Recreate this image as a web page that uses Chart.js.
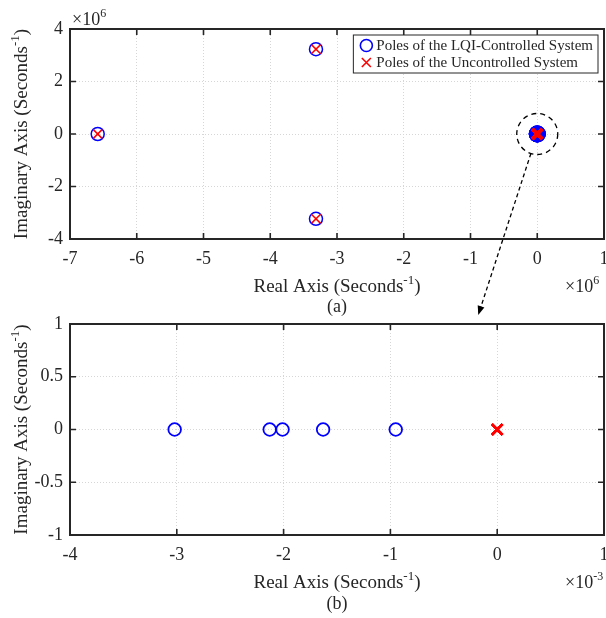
<!DOCTYPE html>
<html>
<head>
<meta charset="utf-8">
<script src="https://cdn.jsdelivr.net/npm/chart.js@4.4.1/dist/chart.umd.min.js"></script>
<style>
  body { margin: 0; background: #fff; }
  #wrap { position: relative; width: 606px; height: 618px; }
  canvas { position: absolute; left: 0; }
</style>
</head>
<body>
<div id="wrap">
  <canvas id="chartA" width="606" height="320" style="top:0"></canvas>
  <canvas id="chartB" width="606" height="318" style="top:300px"></canvas>
</div>
<script>
// poles in seconds^-1 (real / imaginary parts)
const lqiRe = [-6.585e6, -3.315e6, -3.315e6, -3.02e-3, -2.13e-3, -2.01e-3, -1.63e-3, -0.95e-3];
const lqiIm = [0, 3.23e6, -3.23e6, 0, 0, 0, 0, 0];
const openRe = [-6.585e6, -3.315e6, -3.315e6, 0, 0, 0, 0];
const openIm = [0, 3.23e6, -3.23e6, 0, 0, 0, 0];

const seriesNames = ["Poles of the LQI-Controlled System", "Poles of the Uncontrolled System"];

// tick ranges
const xTicksA = [-7, -6, -5, -4, -3, -2, -1, 0, 1];
const yTicksA = [-4, -2, 0, 2, 4];
const xTicksB = [-4, -3, -2, -1, 0, 1];
const yTicksB = [-1, -0.5, 0, 0.5, 1];

const FONT = '"Liberation Serif", "Times New Roman", serif';
const INK = "#262626";
const BLUE = "#0000ff";
const RED = "#ff0000";

function toPts(re, im, sx, sy, xr, yr) {
  const out = [];
  for (let i = 0; i < re.length; i++) {
    const p = { x: re[i] / sx, y: im[i] / sy };
    if (p.x >= xr[0] && p.x <= xr[1] && p.y >= yr[0] && p.y <= yr[1]) out.push(p);
  }
  return out;
}

// text with superscripts: parts = [[text, isSup], ...]
function supText(ctx, x, y, parts, size, align) {
  const fontOf = (sup) => (sup ? Math.round(size * 0.68) : size) + "px " + FONT;
  let w = 0;
  parts.forEach(p => { ctx.font = fontOf(p[1]); w += ctx.measureText(p[0]).width; });
  let cx = align === "center" ? x - w / 2 : (align === "right" ? x - w : x);
  ctx.textAlign = "left";
  ctx.textBaseline = "alphabetic";
  parts.forEach(p => {
    ctx.font = fontOf(p[1]);
    ctx.fillText(p[0], cx, p[1] ? y - size * 0.42 : y);
    cx += ctx.measureText(p[0]).width;
  });
}

const framePlugin = {
  id: "frame",
  afterDraw(chart, args, o) {
    const { ctx, chartArea: a, scales } = chart;
    ctx.save();
    ctx.strokeStyle = INK;
    ctx.fillStyle = INK;
    ctx.lineWidth = 1.6;
    ctx.beginPath();
    scales.x.ticks.forEach(t => {
      const px = scales.x.getPixelForValue(t.value);
      ctx.moveTo(px, a.bottom); ctx.lineTo(px, a.bottom - 6);
      ctx.moveTo(px, a.top); ctx.lineTo(px, a.top + 6);
    });
    scales.y.ticks.forEach(t => {
      const py = scales.y.getPixelForValue(t.value);
      ctx.moveTo(a.left, py); ctx.lineTo(a.left + 6, py);
      ctx.moveTo(a.right, py); ctx.lineTo(a.right - 6, py);
    });
    ctx.stroke();
    ctx.lineWidth = 2;
    ctx.strokeRect(a.left, a.top, a.right - a.left, a.bottom - a.top);

    const midX = (a.left + a.right) / 2;
    supText(ctx, midX, a.bottom + 53, [["Real Axis (Seconds", false], ["-1", true], [")", false]], 19, "center");
    ctx.font = "18px " + FONT;
    ctx.textAlign = "center";
    ctx.fillText(o.caption, midX, a.bottom + o.capGap);
    supText(ctx, a.right - 39, a.bottom + 53, [["\u00d710", false], [o.expX, true]], 18, "left");
    if (o.expY) supText(ctx, a.left + 2, a.top - 4, [["\u00d710", false], [o.expY, true]], 18, "left");

    ctx.translate(27, (a.top + a.bottom) / 2);
    ctx.rotate(-Math.PI / 2);
    supText(ctx, 0, 0, [["Imaginary Axis (Seconds", false], ["-1", true], [")", false]], 19, "center");
    ctx.restore();
  }
};

// legend box + zoom marker (dashed circle and arrow) on the top chart
const zoomPlugin = {
  id: "zoomNote",
  afterDraw(chart) {
    const { ctx, chartArea: a, scales } = chart;
    ctx.save();
    // legend
    ctx.font = "15px " + FONT;
    const tw = Math.max(...seriesNames.map(s => ctx.measureText(s).width));
    const right = a.right - 6, top = a.top + 6;
    const left = right - tw - 28, h = 38;
    ctx.fillStyle = "#fff";
    ctx.fillRect(left, top, right - left, h);
    ctx.strokeStyle = INK;
    ctx.lineWidth = 1;
    ctx.strokeRect(left, top, right - left, h);
    ctx.strokeStyle = BLUE;
    ctx.lineWidth = 1.6;
    ctx.beginPath();
    ctx.arc(left + 13, top + 10.5, 6, 0, Math.PI * 2);
    ctx.stroke();
    ctx.strokeStyle = RED;
    ctx.beginPath();
    ctx.moveTo(left + 8.5, top + 23); ctx.lineTo(left + 17.5, top + 32);
    ctx.moveTo(left + 17.5, top + 23); ctx.lineTo(left + 8.5, top + 32);
    ctx.stroke();
    ctx.fillStyle = INK;
    ctx.textAlign = "left";
    ctx.textBaseline = "middle";
    ctx.fillText(seriesNames[0], left + 23, top + 11);
    ctx.fillText(seriesNames[1], left + 23, top + 28);

    // dashed circle round the origin cluster
    const cx = scales.x.getPixelForValue(0), cy = scales.y.getPixelForValue(0);
    const r = 20.5;
    ctx.strokeStyle = "#000";
    ctx.lineWidth = 1.3;
    ctx.setLineDash([5, 4]);
    ctx.beginPath();
    ctx.arc(cx, cy, r, 0, Math.PI * 2);
    ctx.stroke();
    // dashed arrow down to panel (b)
    const ex = cx - 59, ey = a.bottom + 76;
    const dx = ex - cx, dy = ey - cy, len = Math.hypot(dx, dy);
    const ux = dx / len, uy = dy / len;
    ctx.setLineDash([4, 3]);
    ctx.beginPath();
    ctx.moveTo(cx + ux * r, cy + uy * r);
    ctx.lineTo(ex - ux * 6, ey - uy * 6);
    ctx.stroke();
    ctx.setLineDash([]);
    ctx.fillStyle = "#000";
    ctx.beginPath();
    ctx.moveTo(ex, ey);
    ctx.lineTo(ex - ux * 9 - uy * 3.5, ey - uy * 9 + ux * 3.5);
    ctx.lineTo(ex - ux * 9 + uy * 3.5, ey - uy * 9 - ux * 3.5);
    ctx.closePath();
    ctx.fill();
    ctx.restore();
  }
};

function axis(min, max, step, vals, fitSize, isX) {
  return {
    type: "linear",
    min: min, max: max,
    afterBuildTicks: s => { s.ticks = vals.map(v => ({ value: v })); },
    afterFit: s => {
      if (isX) s.height = fitSize; else s.width = fitSize;
      s.paddingLeft = s.paddingRight = s.paddingTop = s.paddingBottom = 0;
    },
    grid: { color: "#d6d6d6", lineWidth: 1, drawTicks: false },
    border: { display: false, dash: [1, 2] },
    ticks: {
      stepSize: step,
      padding: isX ? 9 : 7,
      color: INK,
      font: { family: FONT, size: 18 },
      callback: v => (Math.abs(v) < 1e-9 ? "0" : String(v))
    }
  };
}

const small = ctx => ctx.raw && Math.abs(ctx.raw.x) < 0.01;

new Chart(document.getElementById("chartA"), {
  type: "scatter",
  data: {
    datasets: [
      {
        label: seriesNames[0],
        data: toPts(lqiRe, lqiIm, 1e6, 1e6, [-7, 1], [-4, 4]),
        pointStyle: "circle",
        pointRadius: ctx => (small(ctx) ? 7.5 : 6.5),
        pointBorderWidth: ctx => (small(ctx) ? 2 : 1.5),
        pointBorderColor: BLUE,
        pointBackgroundColor: ctx => (small(ctx) ? BLUE : "rgba(0,0,0,0)"),
        order: 2
      },
      {
        label: seriesNames[1],
        data: toPts(openRe, openIm, 1e6, 1e6, [-7, 1], [-4, 4]),
        pointStyle: "crossRot",
        pointRadius: ctx => (small(ctx) ? 7 : 6.5),
        pointBorderWidth: ctx => (small(ctx) ? 3.5 : 1.5),
        pointBorderColor: RED,
        order: 1
      }
    ]
  },
  options: {
    responsive: false,
    animation: false,
    devicePixelRatio: 1,
    layout: { autoPadding: false, padding: { top: 29, right: 2, left: 0, bottom: 0 } },
    scales: {
      x: axis(-7, 1, 1, xTicksA, 81, true),
      y: axis(-4, 4, 2, yTicksA, 70, false)
    },
    plugins: {
      legend: { display: false },
      tooltip: { enabled: false },
      frame: { caption: "(a)", capGap: 73, expX: "6", expY: "6" }
    }
  },
  plugins: [framePlugin, zoomPlugin]
});

new Chart(document.getElementById("chartB"), {
  type: "scatter",
  data: {
    datasets: [
      {
        label: seriesNames[0],
        data: toPts(lqiRe, lqiIm, 1e-3, 1, [-4, 1], [-1, 1]),
        pointStyle: "circle",
        pointRadius: 6.3,
        pointBorderWidth: 1.8,
        pointBorderColor: BLUE,
        pointBackgroundColor: "rgba(0,0,0,0)",
        order: 2
      },
      {
        label: seriesNames[1],
        data: toPts(openRe, openIm, 1e-3, 1, [-4, 1], [-1, 1]),
        pointStyle: "crossRot",
        pointRadius: 7.5,
        pointBorderWidth: 2.5,
        pointBorderColor: RED,
        order: 1
      }
    ]
  },
  options: {
    responsive: false,
    animation: false,
    devicePixelRatio: 1,
    layout: { autoPadding: false, padding: { top: 24, right: 2, left: 0, bottom: 0 } },
    scales: {
      x: axis(-4, 1, 1, xTicksB, 83, true),
      y: axis(-1, 1, 0.5, yTicksB, 70, false)
    },
    plugins: {
      legend: { display: false },
      tooltip: { enabled: false },
      frame: { caption: "(b)", capGap: 74, expX: "-3" }
    }
  },
  plugins: [framePlugin]
});
</script>
</body>
</html>
